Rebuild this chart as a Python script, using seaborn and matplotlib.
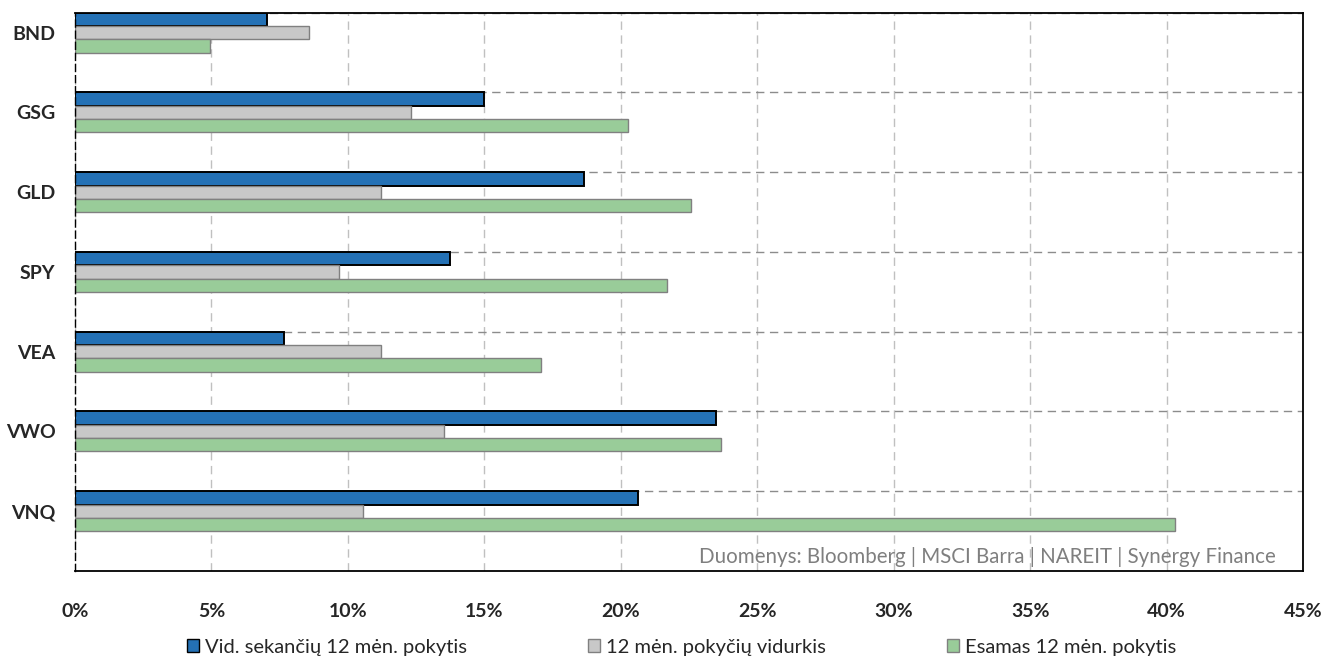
import matplotlib
matplotlib.use("Agg")
import matplotlib.pyplot as plt
import seaborn as sns
import pandas as pd
import numpy as np
from matplotlib.patches import Patch

categories = ["BND", "GSG", "GLD", "SPY", "VEA", "VWO", "VNQ"]
series_names = ["Vid. sekančių 12 mėn. pokytis", "12 mėn. pokyčių vidurkis", "Esamas 12 mėn. pokytis"]
vid_sekanciu = [7.03, 14.98, 18.65, 13.76, 7.67, 23.50, 20.62]
vidurkis = [8.57, 12.30, 11.20, 9.67, 11.20, 13.52, 10.54]
esamas = [4.95, 20.25, 22.57, 21.71, 17.08, 23.67, 40.30]
x_ticks = [0, 5, 10, 15, 20, 25, 30, 35, 40, 45]
x_tick_labels = ["0%", "5%", "10%", "15%", "20%", "25%", "30%", "35%", "40%", "45%"]
source_text = "Duomenys: Bloomberg | MSCI Barra | NAREIT | Synergy Finance"

fills = ["#2471B5", "#C8C8C8", "#99CC99"]
edges = ["#000000", "#808080", "#808080"]
edge_w = [1.4, 1.0, 1.0]

df = pd.DataFrame({
    "ticker": categories * 3,
    "series": [series_names[0]] * 7 + [series_names[1]] * 7 + [series_names[2]] * 7,
    "value": vid_sekanciu + vidurkis + esamas,
})

sns.set_theme(style="white")
plt.rcParams["font.family"] = ["Lato", "DejaVu Sans"]

fig = plt.figure(figsize=(13.23, 6.60), dpi=100)
ax = fig.add_axes([75 / 1323, 1 - 571 / 660, (1303 - 75) / 1323, (571 - 12.7) / 660])

sns.barplot(data=df, y="ticker", x="value", hue="series", order=categories,
            hue_order=series_names, palette=fills, orient="h", width=0.5,
            gap=0, dodge=True, saturation=1, ax=ax, legend=False, errorbar=None)

for cont, ec, lw in zip(ax.containers, edges, edge_w):
    for p in cont:
        p.set_edgecolor(ec)
        p.set_linewidth(lw)

ax.set_xlim(0, 45)
ax.set_ylim(len(categories) - 0.25, -0.25)
ax.set_xticks(x_ticks)
ax.set_xticklabels(x_tick_labels, fontweight="bold", fontsize=14)
ax.set_yticks(range(len(categories)))
ax.set_yticklabels(categories, fontweight="bold", fontsize=14)
ax.set_yticks([i - 0.25 for i in range(len(categories))], minor=True)
ax.tick_params(axis="x", which="both", length=0, pad=23)
ax.tick_params(axis="y", which="both", length=0, pad=14)
ax.set_xlabel("")
ax.set_ylabel("")

ax.grid(axis="x", which="major", linestyle=(0, (6, 4)), color="#C0C0C0", linewidth=1.0)
ax.grid(axis="y", which="minor", linestyle=(0, (6, 4)), color="#8C8C8C", linewidth=1.0)
ax.grid(axis="y", which="major", visible=False)
ax.set_axisbelow(True)

for side in ["top", "right", "bottom"]:
    ax.spines[side].set_color("black")
    ax.spines[side].set_linewidth(1.3)
ax.spines["left"].set_color("black")
ax.spines["left"].set_linewidth(1.0)
ax.spines["left"].set_linestyle((0, (5, 3)))

ax.text(0.9775, 0.008, source_text, transform=ax.transAxes, ha="right", va="bottom",
        fontsize=14.8, color="#7F7F7F")

handles = [Patch(facecolor=f, edgecolor=e, linewidth=1.0) for f, e in zip(fills, edges)]
fig.legend(handles, series_names, loc="center left", bbox_to_anchor=(187 / 1323, 1 - 647 / 660),
           ncol=3, frameon=False, fontsize=14.5, handlelength=0.6, handleheight=0.6,
           handletextpad=0.3, columnspacing=6.0, borderpad=0, borderaxespad=0)

fig.savefig("out.png", dpi=100)
